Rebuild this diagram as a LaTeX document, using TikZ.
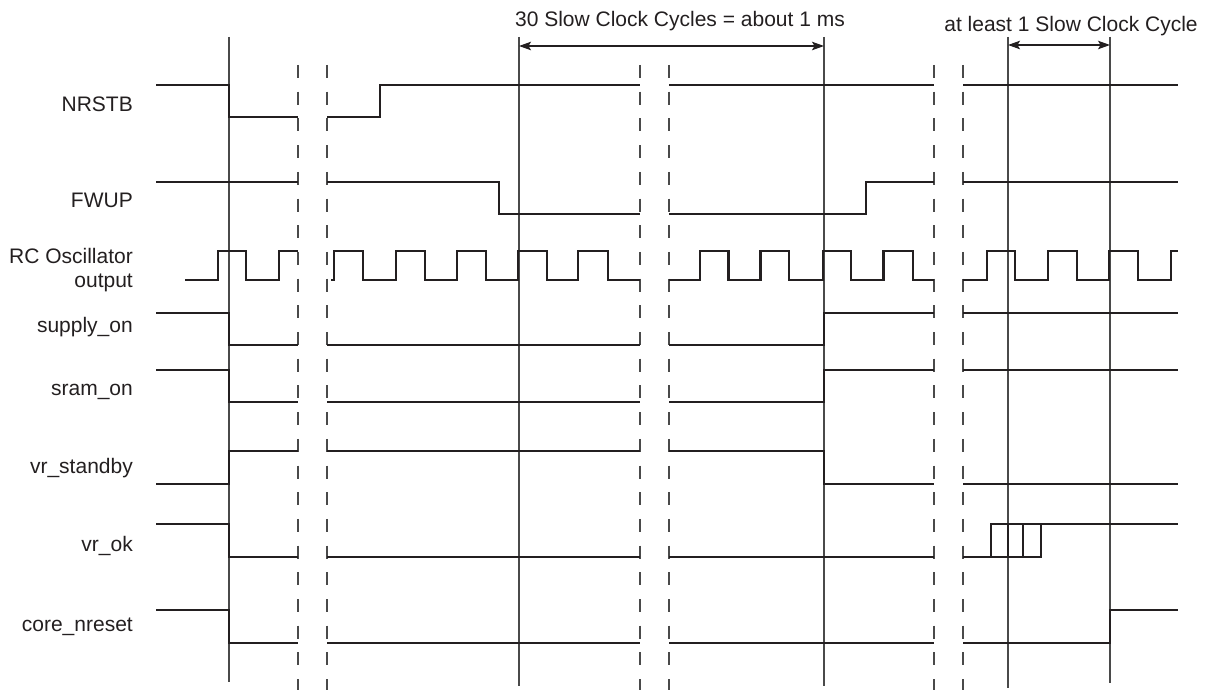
\documentclass[tikz,border=0pt]{standalone}
\usepackage{fontspec}
\setmainfont{Liberation Sans}
\usetikzlibrary{arrows.meta}
\definecolor{sigcol}{HTML}{231F20}
\definecolor{guidecol}{HTML}{4A4A4A}
\tikzset{
  sig/.style={draw=sigcol, line width=2.9pt, line join=miter, line cap=butt},
  guide/.style={draw=guidecol, line width=1.1pt},
  brk/.style={draw=guidecol, line width=1.3pt, dash pattern=on 13pt off 13.7pt},
  dim/.style={draw=sigcol, line width=1.3pt, {Stealth[length=12pt,width=8.5pt,inset=2.5pt]}-{Stealth[length=12pt,width=8.5pt,inset=2.5pt]}},
  lbl/.style={font=\fontsize{21}{24}\selectfont, text=sigcol, inner sep=0pt, anchor=base east, align=right},
  ttl/.style={font=\fontsize{21}{24}\selectfont, text=sigcol, inner sep=0pt, anchor=base}
}
\begin{document}
\begin{tikzpicture}[x=1pt,y=-1pt]
\useasboundingbox (0,0) rectangle (1209,690);

% guide lines
\coordinate (g1t) at (229,37);  \coordinate (g1b) at (229,682);
\coordinate (g2t) at (519,37);  \coordinate (g2b) at (519,686);
\coordinate (g3t) at (824,37);  \coordinate (g3b) at (824,686);
\coordinate (g4t) at (1008,37); \coordinate (g4b) at (1008,688);
\coordinate (g5t) at (1110,37); \coordinate (g5b) at (1110,683);
\draw[guide] (g1t) -- (g1b);
\draw[guide] (g2t) -- (g2b);
\draw[guide] (g3t) -- (g3b);
\draw[guide] (g4t) -- (g4b);
\draw[guide] (g5t) -- (g5b);

% break lines
\foreach \bx in {298,327,640,669,934,963} {
  \draw[brk] (\bx,65) -- (\bx,690);
}

% dimension arrows
\coordinate (a1l) at (519,46); \coordinate (a1r) at (824,46);
\coordinate (a2l) at (1008,45); \coordinate (a2r) at (1110,45);
\draw[dim] (a1l) -- (a1r);
\draw[dim] (a2l) -- (a2r);
\node[ttl] (t1) at (680,27) {30 Slow Clock Cycles = about 1 ms};
\node[ttl] (t2) at (1071,32) {at least 1 Slow Clock Cycle};

% labels
\node[lbl] (lnrstb) at (133,112) {NRSTB};
\node[lbl] (lfwup) at (133,207) {FWUP};
\node[lbl] (lrc) at (133,287) {RC Oscillator\\output};
\node[lbl] (lsup) at (133,332) {supply\_on};
\node[lbl] (lsram) at (133,395) {sram\_on};
\node[lbl] (lvrs) at (133,473) {vr\_standby};
\node[lbl] (lvrok) at (133,551) {vr\_ok};
\node[lbl] (lcore) at (133,631) {core\_nreset};

% NRSTB
\draw[sig] (156,85) -- (229,85) -- (229,117) -- (298,117);
\draw[sig] (327,117) -- (380,117) -- (380,85) -- (640,85);
\draw[sig] (669,85) -- (934,85);
\draw[sig] (963,85) -- (1178,85);

% FWUP
\draw[sig] (156,182) -- (298,182);
\draw[sig] (327,182) -- (499,182) -- (499,214) -- (640,214);
\draw[sig] (669,214) -- (866,214) -- (866,182) -- (934,182);
\draw[sig] (963,182) -- (1178,182);

% RC oscillator
\draw[sig] (185,280) -- (218,280) -- (218,251) -- (246,251) -- (246,280) -- (279,280) -- (279,251) -- (298,251);
\draw[sig] (331,280) -- (334,280) -- (334,251) -- (363,251) -- (363,280) -- (396,280) -- (396,251) -- (425,251) -- (425,280) -- (457,280) -- (457,251) -- (486,251) -- (486,280) -- (518,280) -- (518,251) -- (547,251) -- (547,280) -- (578,280) -- (578,251) -- (608,251) -- (608,280) -- (640,280);
\draw[sig] (669,280) -- (700,280) -- (700,251) -- (728.5,251) -- (728.5,280) -- (760.5,280) -- (760.5,251) -- (789,251) -- (789,280) -- (823,280) -- (823,251) -- (851,251) -- (851,280) -- (883.5,280) -- (883.5,251) -- (913,251) -- (913,280) -- (934,280);
\draw[sig] (963,280) -- (987,280) -- (987,251) -- (1015,251) -- (1015,280) -- (1048,280) -- (1048,251) -- (1077,251) -- (1077,280) -- (1109,280) -- (1109,251) -- (1138,251) -- (1138,280) -- (1171,280) -- (1171,251) -- (1178,251);

% supply_on
\draw[sig] (156,313) -- (229,313) -- (229,345) -- (298,345);
\draw[sig] (327,345) -- (640,345);
\draw[sig] (669,345) -- (824,345) -- (824,313) -- (934,313);
\draw[sig] (963,313) -- (1178,313);

% sram_on
\draw[sig] (156,370) -- (229,370) -- (229,402) -- (298,402);
\draw[sig] (327,402) -- (640,402);
\draw[sig] (669,402) -- (824,402) -- (824,370) -- (934,370);
\draw[sig] (963,370) -- (1178,370);

% vr_standby
\draw[sig] (156,484) -- (229,484) -- (229,451) -- (298,451);
\draw[sig] (327,451) -- (640,451);
\draw[sig] (669,451) -- (824,451) -- (824,484) -- (934,484);
\draw[sig] (963,484) -- (1178,484);

% vr_ok
\draw[sig] (156,524) -- (229,524) -- (229,557) -- (298,557);
\draw[sig] (327,557) -- (640,557);
\draw[sig] (669,557) -- (934,557);
\draw[sig] (963,557) -- (1041,557) -- (1041,524);
\draw[sig] (991,557) -- (991,524) -- (1178,524);
\draw[sig] (1008,557) -- (1008,524);
\draw[sig] (1023,557) -- (1023,524);

% core_nreset
\draw[sig] (156,610) -- (229,610) -- (229,643) -- (298,643);
\draw[sig] (327,643) -- (640,643);
\draw[sig] (669,643) -- (934,643);
\draw[sig] (963,643) -- (1110,643) -- (1110,610) -- (1178,610);
\end{tikzpicture}
\end{document}
